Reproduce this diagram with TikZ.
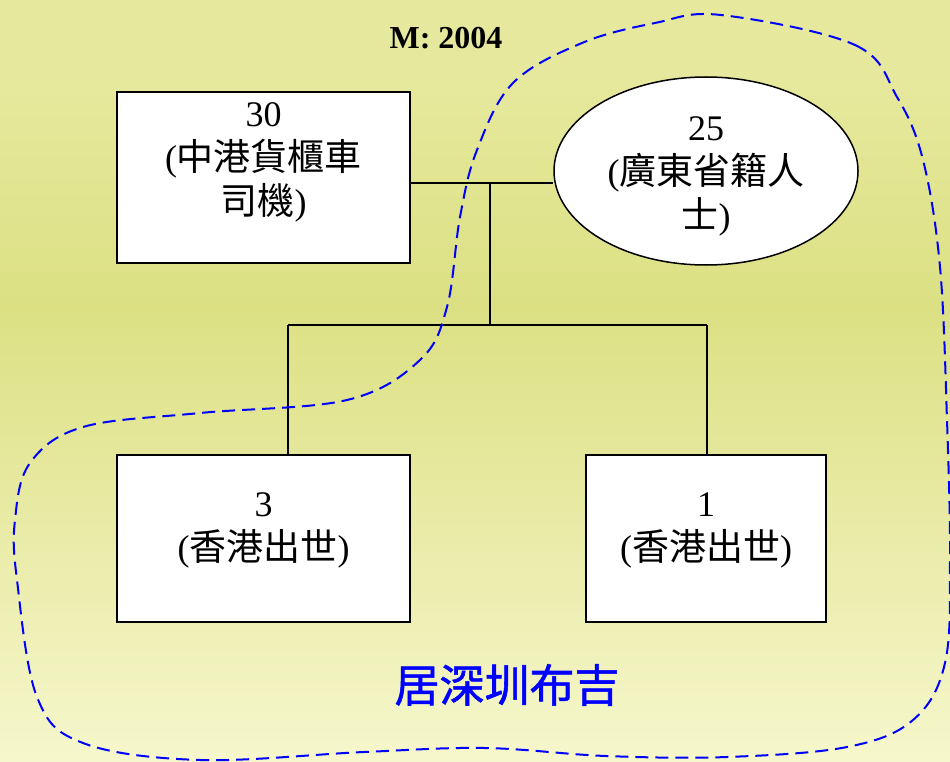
\documentclass[tikz,border=0pt]{standalone}
\usepackage{fontspec}
\setmainfont{Liberation Serif}
\newfontfamily\cjk{Noto Sans CJK TC}
\newfontfamily\cjkbold{Noto Sans CJK TC}[FakeBold=1.2]
\usetikzlibrary{shapes.geometric}
\definecolor{bgtop}{RGB}{230,233,157}
\definecolor{bgmid}{RGB}{220,224,131}
\definecolor{bgbot}{RGB}{246,247,204}
\definecolor{dashblue}{RGB}{0,0,255}
\pgfdeclareverticalshading{bgshade}{100bp}{color(0bp)=(bgbot); color(25bp)=(bgbot); color(55bp)=(bgmid); color(70bp)=(bgtop); color(75bp)=(bgtop); color(100bp)=(bgtop)}
\tikzset{
  box/.style={draw=black, fill=white, line width=1.8pt, inner sep=0pt},
  oval/.style={ellipse, draw=black, fill=white, line width=1.5pt, inner sep=0pt},
  txt/.style={align=center, inner sep=0pt, font=\fontsize{36}{44}\selectfont},
  conn/.style={draw=black, line width=1.4pt},
  region/.style={draw=dashblue, line width=2pt, dash pattern=on 13pt off 7pt},
}
\begin{document}
\begin{tikzpicture}[x=1pt,y=-1pt]
\useasboundingbox (0,0) rectangle (950,762);
\shade[shading=bgshade] (0,0) rectangle (950,762);

% nodes
\node[box, minimum width=293pt, minimum height=171pt] (b1) at (263.5,177.5) {};
\node[txt] (t1) at ([yshift=15pt]b1.center) {30\\({\cjk\fontsize{37}{44}\selectfont 中港貨櫃車}\\{\cjk\fontsize{37}{44}\selectfont 司機})};
\node[oval, minimum width=304pt, minimum height=188pt] (e) at (706,171) {};
\node[txt] (te) at ([yshift=-5pt]e.center) {25\\({\cjk\fontsize{37}{44}\selectfont 廣東省籍人}\\{\cjk\fontsize{37}{44}\selectfont 士})};
\node[box, minimum width=293pt, minimum height=167pt] (b3) at (263.5,538.5) {};
\node[txt] (t3) at ([yshift=8pt]b3.center) {3\\({\cjk\fontsize{37}{44}\selectfont 香港出世})};
\node[box, minimum width=240pt, minimum height=167pt] (b4) at (706,538.5) {};
\node[txt] (t4) at ([yshift=8pt]b4.center) {1\\({\cjk\fontsize{37}{44}\selectfont 香港出世})};

\node[font=\bfseries\fontsize{32}{36}\selectfont, inner sep=0pt] (title) at (446,38) {M: 2004};
\node[font=\cjkbold\fontsize{45}{50}\selectfont, text=dashblue, inner sep=0pt] (place) at (507,685) {居深圳布吉};

% connectors
\coordinate (j1) at (490,183);
\coordinate (j2) at (490,325);
\coordinate (j3) at (288,325);
\coordinate (j4) at (707,325);
\draw[conn] (b1.east |- j1) -- (e.west |- j1);
\draw[conn] (j1) -- (j2);
\draw[conn] (j3) -- (j4);
\draw[conn] (j3) -- (j3 |- b3.north);
\draw[conn] (j4) -- (j4 |- b4.north);

% dashed region
\draw[region] plot[smooth cycle, tension=0.6] coordinates {
 (721,15) (855,45) (897,97) (923,160) (940,267) (947,420) (950,560)
 (945,663) (913,720) (847,747) (727,757) (606,756) (485,748) (364,752)
 (200,760) (83,743) (37,697) (17,580) (15,520) (30,463) (83,427)
 (200,413) (347,400) (420,360) (447,307) (460,217) (477,150) (513,83)
 (582,43) (655,23)};
\end{tikzpicture}
\end{document}
